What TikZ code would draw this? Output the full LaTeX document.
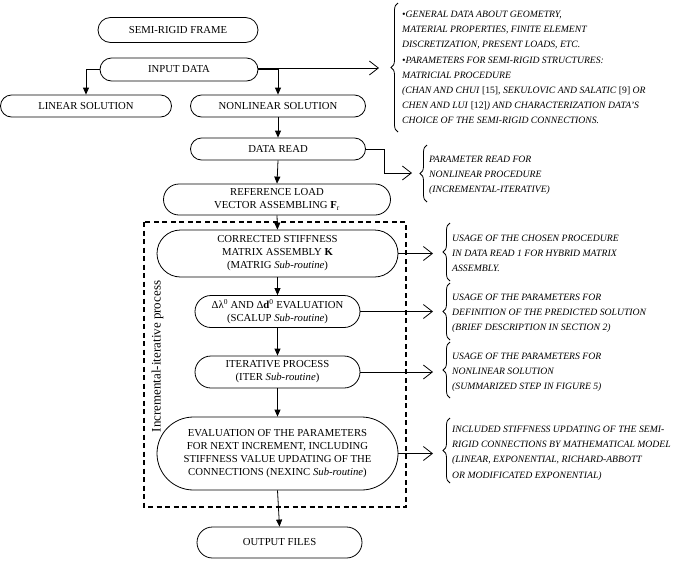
\documentclass[tikz,border=0pt]{standalone}
\usepackage{fontspec}
\setmainfont{Liberation Serif}
\usetikzlibrary{arrows.meta,decorations.pathreplacing}
\newcommand{\boxfont}{\fontsize{10.7}{13}\selectfont}
\newcommand{\notefont}{\fontsize{9.7}{15.2}\selectfont\itshape}
\begin{document}
\begin{tikzpicture}[x=1pt,y=-1pt,
 pill/.style={draw, line width=0.8pt, rounded corners=#1, align=center, inner sep=0pt, font=\boxfont},
 down/.style={draw, line width=0.8pt, -{Triangle[length=7pt,width=6pt]}},
 side/.style={draw, line width=0.8pt, -{Straight Barb[length=9pt,width=14pt,line width=0.8pt]}},
 note/.style={anchor=north west, align=left, inner sep=0pt, font=\notefont},
 bracebar/.style={decorate, decoration={brace, amplitude=7pt}, line width=0.8pt}]
\useasboundingbox (0,0) rectangle (673,563);

% main flow
\node[pill=12.5, minimum width=160pt, minimum height=25pt] (frame) at (178,30) {SEMI-RIGID FRAME};
\node[pill=11.5, minimum width=158pt, minimum height=23pt] (input) at (179,69.5) {INPUT DATA};
\node[pill=11, minimum width=171pt, minimum height=22pt] (linear) at (86,106) {LINEAR SOLUTION};
\node[pill=11, minimum width=175pt, minimum height=22pt] (nonlin) at (278,106) {NONLINEAR SOLUTION};
\node[pill=11, minimum width=175pt, minimum height=22pt] (dread) at (278,149) {DATA READ};
\node[pill=15.5, minimum width=227pt, minimum height=31pt] (refload) at (277,199.5) {REFERENCE LOAD\\VECTOR ASSEMBLING \textbf{F}\textsubscript{r}};
\node[pill=23.5, minimum width=241pt, minimum height=47pt] (corr) at (277.5,253.5) {CORRECTED STIFFNESS\\MATRIX ASSEMBLY \textbf{K}\\(MATRIG \textit{Sub-routine})};
\node[pill=16, minimum width=165pt, minimum height=32pt] (delta) at (277.5,311.5) {Δλ\textsuperscript{0} AND Δ\textbf{d}\textsuperscript{0} EVALUATION\\(SCALUP \textit{Sub-routine})};
\node[pill=16, minimum width=165pt, minimum height=32pt] (iter) at (277.5,372) {ITERATIVE PROCESS\\(ITER \textit{Sub-routine})};
\node[pill=36.5, minimum width=241pt, minimum height=73pt] (eval) at (277.5,453.5) {EVALUATION OF THE PARAMETERS\\FOR NEXT INCREMENT, INCLUDING\\STIFFNESS VALUE UPDATING OF THE\\CONNECTIONS (NEXINC \textit{Sub-routine})};
\node[pill=15.5, minimum width=165pt, minimum height=31pt] (out) at (279.5,542.5) {OUTPUT FILES};

% dashed region and its label
\draw[line width=1.1pt, dash pattern=on 5pt off 3.5pt] (144,222) rectangle (406,507);
\node[rotate=90, inner sep=0pt, font=\fontsize{13}{15}\selectfont] (lab) at (157.5,356.5) {Incremental-iterative process};

% vertical connectors
\draw[down] (input.west) -| (linear.north);
\draw[down] (input.east) -| (nonlin.north);
\draw[down] (nonlin.south) -- (dread.north);
\draw[down] (dread.south) -- (refload.north);
\draw[down] (refload.south) -- (corr.north);
\draw[down] (corr.south) -- (delta.north);
\draw[down] (delta.south) -- (iter.north);
\draw[down] (iter.south) -- (eval.north);
\draw[down] (eval.south) -- (out.north);

% side connectors
\coordinate (t1) at (379,68);
\coordinate (k2) at (384,173);
\coordinate (t2) at (412,173);
\coordinate (t3) at (433,253.5);
\coordinate (t4) at (433,311.5);
\coordinate (t5) at (433,372);
\coordinate (t6) at (433,453.5);
\draw[side] (input.east |- t1) -- (t1);
\draw[side] (dread.east) -| (k2) -- (t2);
\draw[side] (corr.east) -- (t3);
\draw[side] (delta.east) -- (t4);
\draw[side] (iter.east) -- (t5);
\draw[side] (eval.east) -- (t6);

% braces
\draw[bracebar] (398,132) -- (398,3);
\draw[bracebar] (427,202) -- (427,145);
\draw[bracebar] (450,281) -- (450,223);
\draw[bracebar] (450,340) -- (450,283);
\draw[bracebar] (450,398) -- (450,342);
\draw[bracebar] (450,483) -- (450,418);

% notes
\node[note] (n1) at (402,10.8) {•GENERAL DATA ABOUT GEOMETRY,\\MATERIAL PROPERTIES, FINITE ELEMENT\\DISCRETIZATION, PRESENT LOADS, ETC.\\•PARAMETERS FOR SEMI-RIGID STRUCTURES:\\MATRICIAL PROCEDURE\\(CHAN AND CHUI \textup{[15]}, SEKULOVIC AND SALATIC \textup{[9]} OR\\CHEN AND LUI \textup{[12]}) AND CHARACTERIZATION DATA’S\\CHOICE OF THE SEMI-RIGID CONNECTIONS.};
\node[note] (n2) at (429,155.8) {PARAMETER READ FOR\\NONLINEAR PROCEDURE\\(INCREMENTAL-ITERATIVE)};
\node[note] (n3) at (452,234.8) {USAGE OF THE CHOSEN PROCEDURE\\IN DATA READ 1 FOR HYBRID MATRIX\\ASSEMBLY.};
\node[note] (n4) at (452,293.8) {USAGE OF THE PARAMETERS FOR\\DEFINITION OF THE PREDICTED SOLUTION\\(BRIEF DESCRIPTION IN SECTION 2)};
\node[note] (n5) at (452,352.8) {USAGE OF THE PARAMETERS FOR\\NONLINEAR SOLUTION\\(SUMMARIZED STEP IN FIGURE 5)};
\node[note] (n6) at (452,425.8) {INCLUDED STIFFNESS UPDATING OF THE SEMI-\\RIGID CONNECTIONS BY MATHEMATICAL MODEL\\(LINEAR, EXPONENTIAL, RICHARD-ABBOTT\\OR MODIFICATED EXPONENTIAL)};
\end{tikzpicture}
\end{document}
